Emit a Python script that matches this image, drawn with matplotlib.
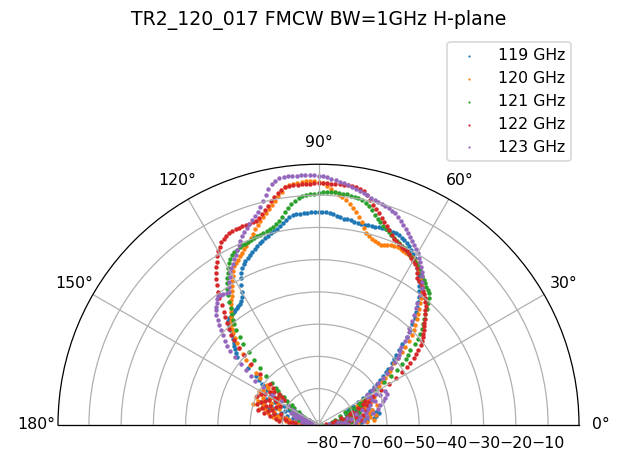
import numpy as np
import matplotlib
matplotlib.use("Agg")
import matplotlib.pyplot as plt

title = "TR2_120_017 FMCW BW=1GHz H-plane"
labels = ["119 GHz", "120 GHz", "121 GHz", "122 GHz", "123 GHz"]
angles_deg = list(range(0, 181))
r_ticks = [-80, -70, -60, -50, -40, -30, -20, -10]
theta_ticks = [0, 30, 60, 90, 120, 150, 180]

gain_119 = [
    -75, -70, -77, -68, -73, -66, -71, -64, -69, -63,
    -67, -62, -65, -63, -70, -64, -68, -66, -71, -65,
    -69, -66, -72, -67, -70, -65, -68, -71, -66, -69,
    -67, -65, -63.5, -62, -60.5, -59, -57.5, -56, -54.5, -53.5,
    -51.5, -50, -48.8, -47, -45, -42.5, -40.5, -38.5, -36.5, -35,
    -33.6, -32.2, -30.8, -29.4, -28, -26.7, -25.5, -24.6, -23.7, -22.7,
    -21.5, -20.6, -19.8, -19.1, -18.5, -18.1, -17.7, -17.4, -17.2, -17,
    -16.9, -17, -17.1, -17.2, -17.3, -17.4, -17.5, -17.5, -17.4, -17.3,
    -17.2, -17, -16.9, -16.8, -16.5, -16.2, -15.8, -15.5, -15.3, -15.2,
    -15.2, -15.2, -15.2, -15.3, -15.4, -15.5, -15.6, -15.7, -16, -16.8,
    -17.7, -18.4, -19, -19.5, -20, -20.5, -21, -21.5, -22, -22.6,
    -23.2, -23.7, -24.3, -24.9, -25.5, -26.2, -27, -28.2, -29.8, -31.5,
    -33.5, -35, -36, -36.5, -36.8, -37, -37.2, -37.4, -37.6, -37.9,
    -38.1, -38.4, -39.5, -41, -42.4, -43.6, -44.6, -45.5, -46.3, -47.2,
    -48.4, -53, -56.5, -58, -59.5, -60.5, -62, -63.5, -65, -67,
    -64, -69, -66, -71, -63, -68, -65, -70, -62, -67,
    -66, -63, -69, -65, -71, -67, -73, -68, -75, -70,
    -72, -76, -74, -78, -75, -79, -77, -80, -78, -80, -79,
]

gain_120 = [
    -73, -69, -76, -66, -71, -64, -68, -74, -65, -70,
    -63, -67, -72, -65, -69, -64, -71, -66, -68, -62,
    -66, -70, -64, -67, -63, -65, -68, -62, -64, -66,
    -65, -63, -61, -59, -57.5, -56, -54.5, -53.5, -52.6, -51,
    -49, -47, -45, -43, -41, -39.5, -38, -36.5, -35, -33.6,
    -32, -30.5, -29, -27.7, -26.5, -25.5, -24.6, -23.8, -23, -22.4,
    -21.8, -21.6, -21.5, -21.4, -21.2, -21, -20.9, -20.9, -21.1, -21.5,
    -22, -22.1, -21.8, -21.5, -21.3, -20.6, -19.8, -18.5, -17, -15.6,
    -14.3, -13.1, -11.9, -11, -10.3, -9.6, -8.8, -7.9, -7, -6.3,
    -5.8, -5.6, -5.6, -5.6, -5.7, -5.8, -6, -6.2, -6.8, -8,
    -9.3, -10.4, -11.5, -12.5, -13.5, -14.5, -15.5, -16.5, -17.5, -18.5,
    -19.6, -20.6, -21.4, -22.1, -22.8, -23.5, -24.2, -24.9, -25.6, -26.7,
    -28, -29.2, -30.5, -31.8, -33, -34, -35, -36, -37, -38,
    -39, -40, -41.2, -42.5, -44, -45.5, -47, -49, -51, -53,
    -56, -58, -61, -64, -62, -66, -63, -67, -61, -65,
    -60, -64, -61, -67, -62, -65, -60, -63, -68, -61,
    -63, -66, -60, -64, -67, -62, -69, -65, -68, -71,
    -67, -72, -69, -74, -71, -76, -73, -77, -75, -79, -78,
]

gain_121 = [
    -79, -75, -80, -73, -77, -71, -78, -74, -76, -72,
    -75, -70, -77, -73, -69, -74, -71, -76, -68, -72,
    -70, -74, -68, -71, -67, -72, -69, -66, -70, -67,
    -65, -63, -60, -57, -54, -51.5, -49, -47.3, -46, -44.5,
    -42, -40.5, -39, -37.5, -36, -35, -33.5, -32, -30.5, -29,
    -28, -27.4, -26.8, -26.2, -25.6, -25, -24.3, -23.6, -23.1, -22.6,
    -22.2, -21.8, -21.3, -20.8, -20.3, -19.9, -19.6, -19.2, -18.6, -18.1,
    -17.7, -17, -16.3, -15.5, -14.7, -13.7, -12.6, -11.5, -10.9, -10.3,
    -9.9, -9.6, -9.4, -9.2, -9.1, -9, -8.9, -8.9, -8.9, -9,
    -9.2, -9.5, -9.7, -9.8, -10, -10.5, -11.3, -12.2, -13.3, -14.5,
    -15.7, -16.8, -17.7, -18.3, -18.7, -19, -19.3, -19.6, -19.8, -20,
    -20.2, -20.4, -20.6, -20.8, -21, -21.3, -21.6, -22, -23, -24,
    -25.2, -26.4, -27.6, -28.9, -30.3, -32, -34, -36, -37.8, -39.2,
    -40.3, -42.4, -44.7, -47, -50, -53, -55.9, -59, -62, -63.9,
    -65, -67.5, -66, -69, -71, -68, -72, -70, -74, -71,
    -73, -75, -72, -76, -74, -78, -73, -77, -75, -79,
    -76, -78, -74, -79, -77, -80, -75, -78, -76, -80,
    -78, -80, -77, -79, -80, -78, -80, -79, -80, -80, -80,
]

gain_122 = [
    -74, -78, -70, -76, -72, -79, -68, -75, -71, -77,
    -69, -73, -67, -76, -70, -72, -66, -74, -69, -71,
    -67, -70, -65, -68, -64, -66, -63, -65, -62, -59,
    -56, -53, -50.5, -48.4, -47, -45, -43.8, -42.5, -41, -39.8,
    -39, -38.2, -37.3, -36.4, -35.6, -34.6, -33.6, -32.6, -31.6, -30.8,
    -30, -29.2, -28.4, -27.6, -27, -26.7, -26.3, -25, -23.8, -23,
    -22.6, -22, -21.3, -20.8, -20.5, -20.2, -19.8, -19.4, -18.9, -18,
    -17, -16, -15.1, -14, -13, -11.9, -10.8, -9.6, -8.4, -7.4,
    -6.8, -6.6, -6.5, -6.4, -6.4, -6.3, -6.3, -6.3, -6.3, -6.3,
    -6.3, -6.3, -6.4, -6.4, -6.4, -6.5, -6.5, -6.6, -6.7, -7.5,
    -8.3, -9.2, -10.2, -11.5, -12.6, -13.6, -14.4, -15, -15.1, -15.2,
    -15.2, -15.3, -15.3, -15.4, -15.5, -15.6, -16, -16.4, -16.9, -18,
    -19, -20.2, -21.6, -23, -24.5, -26, -27.5, -29.5, -31.3, -33.5,
    -35.5, -37.1, -38.8, -40.5, -42.3, -44.1, -46.8, -49.7, -52.9, -57,
    -61.7, -63, -65.6, -67, -64, -68, -63, -66, -70, -65,
    -62, -66, -61, -64, -68, -60, -63, -67, -62, -65,
    -64, -61, -66, -63, -69, -65, -62, -67, -64, -70,
    -66, -71, -68, -73, -69, -74, -72, -76, -74, -78, -77,
]

gain_123 = [
    -76, -72, -78, -70, -74, -67, -73, -69, -75, -66,
    -71, -68, -64, -72, -66, -62, -69, -65, -61, -67,
    -60, -64, -59, -62, -58, -63, -60, -58, -61, -63,
    -64, -63.5, -63, -61.5, -60, -58.5, -56.5, -54.5, -52.5, -50.5,
    -49, -48, -47, -46, -44, -42.5, -41, -40, -38, -36,
    -34, -32.5, -30, -28, -26.5, -25, -24, -22.8, -21.8, -20.8,
    -19.7, -18.8, -18, -17.2, -16.4, -15.5, -14.6, -13.8, -13, -12.2,
    -11.4, -11, -10.6, -10.3, -10, -9.7, -9.3, -8.9, -8.5, -8,
    -7.6, -7.2, -6.8, -6.3, -5.9, -5.5, -5.1, -4.8, -4.4, -4.1,
    -3.9, -3.8, -3.7, -3.7, -3.6, -3.6, -3.5, -3.5, -3.6, -3.8,
    -4.3, -5.2, -6.6, -8.2, -9.8, -11.2, -12.6, -13.6, -14.5, -15.4,
    -16.3, -17, -18, -19.2, -20.3, -21.4, -22.5, -23.6, -24.7, -25.5,
    -26.5, -27.8, -29, -30.2, -31.4, -31.5, -31, -30.8, -30.6, -31,
    -32, -32.7, -33.5, -34.8, -36.2, -37.6, -39, -40.6, -42.2, -43.8,
    -45.5, -48, -50.5, -53, -55.3, -57.3, -60.5, -64, -67.5, -70,
    -72, -75, -73, -77, -74, -78, -72, -76, -74, -79,
    -75, -73, -77, -79, -74, -78, -76, -80, -77, -79,
    -76, -79, -78, -80, -77, -79, -80, -80, -78, -80, -79,
]

series = [gain_119, gain_120, gain_121, gain_122, gain_123]

W, H, DPI = 624, 456, 113
fig = plt.figure(figsize=(W / DPI, H / DPI), dpi=DPI)
# square polar axes box; the half-disc occupies its middle band
ax = fig.add_axes([58 / W, (456 - 555) / H, 521 / W, 521 / H], projection="polar")
ax.set_thetamin(0)
ax.set_thetamax(180)

theta = np.deg2rad(np.array(angles_deg, dtype=float))
for vals, lab in zip(series, labels):
    ax.scatter(theta, np.array(vals, dtype=float), s=8, linewidths=0, label=lab)

ax.set_rlim(-81.2, -0.4)
ax.set_rticks(r_ticks)
ax.set_thetagrids(theta_ticks)
ax.set_title(title)
ax.legend(loc="upper right", markerscale=0.5)

fig.savefig("out.png", dpi=DPI)
